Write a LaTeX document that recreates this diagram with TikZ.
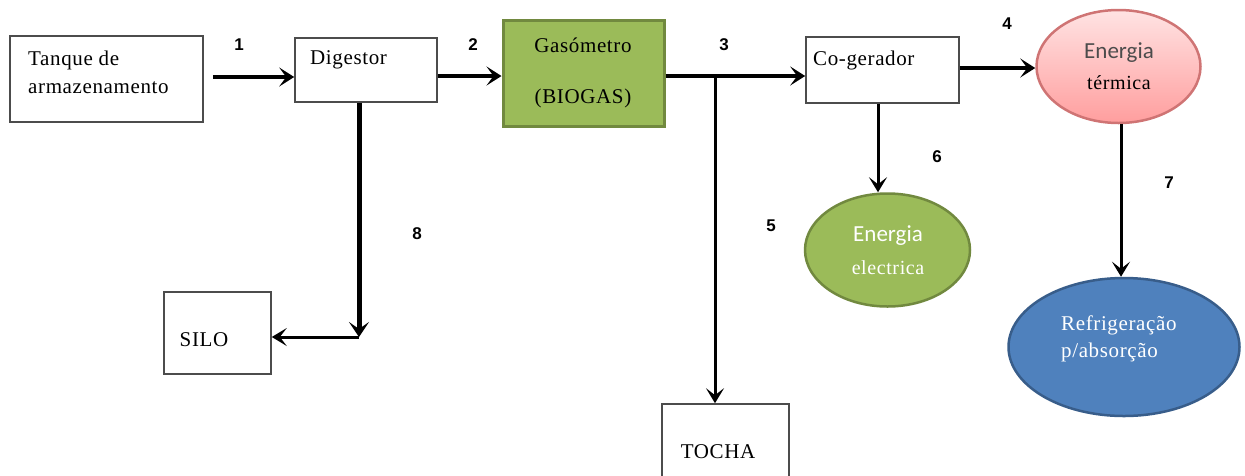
\documentclass[tikz,border=0pt]{standalone}
\usepackage{fontspec}
\setmainfont{Liberation Serif}[LetterSpace=3]
\newfontfamily\numfont{Liberation Sans}
\newfontfamily\calfont{Carlito}
\usetikzlibrary{arrows.meta,shapes.geometric}

\definecolor{olive}{HTML}{9BBB59}
\definecolor{olivedark}{HTML}{71893F}
\definecolor{steel}{HTML}{4F81BD}
\definecolor{steeldark}{HTML}{385D8A}
\definecolor{rosetop}{HTML}{FFE3E3}
\definecolor{rosebot}{HTML}{FF9E9E}
\definecolor{roseedge}{HTML}{CF7474}

\tikzset{
  box/.style={draw=black!70, line width=1.6pt, fill=white, inner sep=0pt},
  greenbox/.style={draw=olivedark, line width=3pt, fill=olive, inner sep=0pt},
  oval/.style={ellipse, inner sep=0pt, line width=2.5pt},
  txt/.style={inner sep=0pt, font=\fontsize{21}{24}\selectfont},
  cal/.style={inner sep=0pt, font=\calfont\fontsize{23}{26}\selectfont},
  num/.style={inner sep=0pt, font=\numfont\bfseries\fontsize{17}{19}\selectfont},
  arr/.style={line width=4pt, -{Stealth[length=15pt,width=19pt,inset=7pt]}},
  arrthin/.style={line width=3pt, -{Stealth[length=15pt,width=18pt,inset=7pt]}}
}

\begin{document}
\begin{tikzpicture}[x=1pt, y=-1pt]
\useasboundingbox (0,0) rectangle (1245,475);

% process boxes
\node[box, minimum width=193, minimum height=86] (tanque) at (106.5,79) {};
\node[txt, anchor=west] (tanque-a) at (28,60) {Tanque de};
\node[txt, anchor=west] (tanque-b) at (28,88) {armazenamento};

\node[box, minimum width=142, minimum height=64] (dig) at (366,70) {};
\node[txt, anchor=west] (dig-t) at (310,60) {Digestor};

\node[greenbox, minimum width=161, minimum height=106] (gas) at (583.5,73) {};
\node[txt] (gas-a) at (583,45) {Gasómetro};
\node[txt] (gas-b) at (583,98) {(BIOGAS)};

\node[box, minimum width=153, minimum height=66] (cog) at (882.5,70) {};
\node[txt, anchor=west] (cog-t) at (813,60) {Co-gerador};

\node[box, minimum width=107, minimum height=82] (silo) at (217.5,333) {};
\node[txt] (silo-t) at (204,340) {SILO};

\begin{scope}
  \clip (0,0) rectangle (1245,475);
  \node[box, minimum width=127, minimum height=96] (tocha) at (725.5,452) {};
\end{scope}
\node[txt] (tocha-t) at (718,452) {TOCHA};

% energy ellipses
\node[oval, draw=roseedge, top color=rosetop, bottom color=rosebot,
      minimum width=164, minimum height=113] (term) at (1118.5,66.5) {};
\node[cal, text=black!70] (term-a) at (1119,53) {Energia};
\node[txt, font=\fontsize{20}{24}\selectfont] (term-b) at (1119,83) {térmica};

\node[oval, draw=olivedark, fill=olive,
      minimum width=165, minimum height=113] (elec) at (887.5,250) {};
\node[cal, text=white] (elec-a) at (888,236) {Energia};
\node[txt, text=white, font=\fontsize{20}{24}\selectfont] (elec-b) at (888,268) {electrica};

\node[oval, draw=steeldark, fill=steel,
      minimum width=231, minimum height=138] (refr) at (1124,347) {};
\node[txt, text=white, anchor=west] (refr-a) at (1061,325) {Refrigeração};
\node[txt, text=white, anchor=west] (refr-b) at (1061,352) {p/absorção};

% flow numbers
\node[num] (n1) at (239,45) {1};
\node[num] (n2) at (473,45) {2};
\node[num] (n3) at (724,45) {3};
\node[num] (n4) at (1007,24) {4};
\node[num] (n5) at (771,226) {5};
\node[num] (n6) at (937,157) {6};
\node[num] (n7) at (1169,183) {7};
\node[num] (n8) at (417,234) {8};

% connectors
\coordinate (j3) at (715,76);
\coordinate (c8) at (359,337);

\draw[arr, shorten <=9pt] (tanque.east |- 0,77) -- (dig.west |- 0,77);
\draw[arr] (dig.east |- 0,76) -- (gas.west |- 0,76);
\draw[arr] (gas.east |- j3) -- (cog.west |- j3);
\draw[arrthin] (j3) -- (tocha.north -| j3);
\draw[arr] (cog.east |- 0,68) -- (term.west |- 0,68);
\draw[arrthin] (cog.south -| 878,0) -- (elec.north -| 878,0);
\draw[arrthin] (term.south -| 1121,0) -- (refr.north -| 1121,0);
\draw[line width=5pt, -{Stealth[length=15pt,width=20pt,inset=7pt]}] (dig.south -| c8) -- (c8);
\draw[arrthin] (c8) -- (silo.east |- c8);
\end{tikzpicture}
\end{document}
